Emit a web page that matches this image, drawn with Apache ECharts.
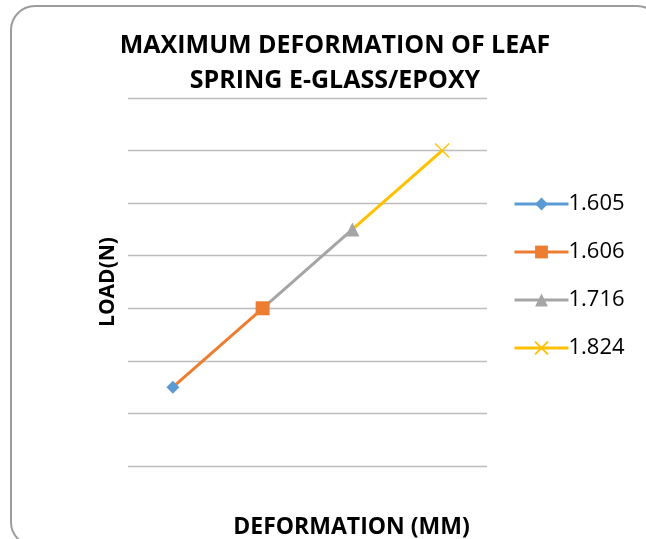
<!DOCTYPE html>
<html>
<head>
<meta charset="utf-8">
<script src="https://cdn.jsdelivr.net/npm/echarts@6/dist/echarts.min.js"></script>
<style>
  html, body { margin: 0; padding: 0; background: #fff; }
  #chart { width: 646px; height: 539px; }
</style>
</head>
<body>
<div id="chart"></div>
<script>
  // deformation (mm) of each load step, also the series names
  var deformations = ['1.605', '1.606', '1.716', '1.824'];
  // load (N)
  var loads = [1500, 3000, 4500, 6000];
  var colors = ['#5B9BD5', '#ED7D31', '#A5A5A5', '#FFC000'];
  var symbols = ['diamond', 'rect', 'triangle', 'path://M0,0L10,10M10,0L0,10'];
  var symbolSizes = [13, 14, 14, 14];

  var chart = echarts.init(document.getElementById('chart'));

  // each series runs from the previous point to its own point
  var series = deformations.map(function (name, i) {
    var data = deformations.map(function () { return '-'; });
    if (i > 0) {
      data[i - 1] = { value: loads[i - 1], symbol: 'none' };
    }
    data[i] = loads[i];
    return {
      name: name,
      type: 'line',
      data: data,
      z: 10 - i,
      symbol: symbols[i],
      symbolSize: symbolSizes[i],
      lineStyle: { color: colors[i], width: 3 },
      itemStyle: i === 3
        ? { color: 'none', borderColor: colors[i], borderWidth: 1.3 }
        : { color: colors[i], borderWidth: 0 },
      emphasis: { disabled: true }
    };
  });

  chart.setOption({
    animation: false,
    legend: {
      orient: 'vertical',
      left: 513,
      top: 193,
      padding: 0,
      itemWidth: 54,
      itemHeight: 16,
      itemGap: 26,
      lineStyle: { width: 3 },
      textStyle: { fontFamily: 'Open Sans', fontSize: 22, color: '#000', padding: [0, 0, 0, -5] },
      data: deformations
    },
    grid: { left: 128, right: 159, top: 98, bottom: 73, outerBoundsMode: 'none' },
    xAxis: {
      type: 'category',
      data: deformations,
      boundaryGap: true,
      name: 'DEFORMATION (MM)',
      nameLocation: 'middle',
      nameGap: 50,
      nameTextStyle: {
        fontFamily: 'Open Sans', fontWeight: 'bold', fontSize: 23, color: '#000',
        padding: [0, 0, 0, 88]
      },
      axisLine: { show: false },
      axisTick: { show: false },
      axisLabel: { show: false }
    },
    yAxis: {
      type: 'value',
      min: 0,
      max: 7000,
      interval: 1000,
      name: 'LOAD(N)',
      nameLocation: 'middle',
      nameGap: 9,
      nameTextStyle: { fontFamily: 'Open Sans', fontWeight: 'bold', fontSize: 21, color: '#000' },
      axisLine: { show: false },
      axisTick: { show: false },
      axisLabel: { show: false },
      splitLine: { lineStyle: { color: '#bcbcbc', width: 1.3 } }
    },
    graphic: [{
      type: 'rect',
      silent: true,
      shape: { x: 11, y: 6, width: 650, height: 540, r: 24 },
      style: { fill: 'none', stroke: '#9c9c9c', lineWidth: 2 }
    }, {
      type: 'text',
      silent: true,
      style: {
        x: 335,
        y: 28,
        text: 'MAXIMUM DEFORMATION OF LEAF\nSPRING E-GLASS/EPOXY',
        align: 'center',
        verticalAlign: 'top',
        fontFamily: 'Open Sans',
        fontWeight: 'bold',
        fontSize: 25,
        lineHeight: 35,
        fill: '#000'
      }
    }],
    series: series
  });
</script>
</body>
</html>
